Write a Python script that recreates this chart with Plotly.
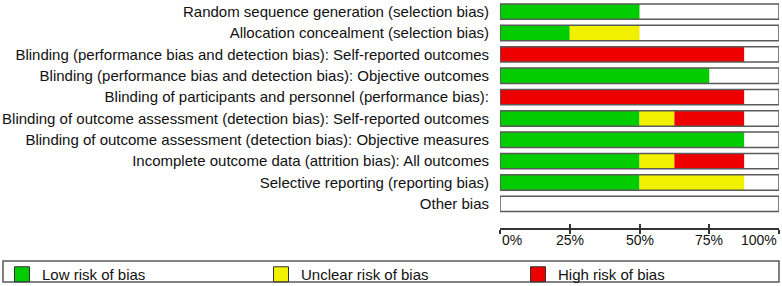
import plotly.graph_objects as go

categories = [
    "Random sequence generation (selection bias)",
    "Allocation concealment (selection bias)",
    "Blinding (performance bias and detection bias): Self-reported outcomes",
    "Blinding (performance bias and detection bias): Objective outcomes",
    "Blinding of participants and personnel (performance bias):",
    "Blinding of outcome assessment (detection bias): Self-reported outcomes",
    "Blinding of outcome assessment (detection bias): Objective measures",
    "Incomplete outcome data (attrition bias): All outcomes",
    "Selective reporting (reporting bias)",
    "Other bias",
]
low = [50, 25, 0, 75, 0, 50, 87.5, 50, 50, 0]
unclear = [0, 25, 0, 0, 0, 12.5, 0, 12.5, 37.5, 0]
high = [0, 0, 87.5, 0, 87.5, 25, 0, 25, 0, 0]
tick_vals = [0, 25, 50, 75, 100]
tick_text = ["0%", "25%", "50%", "75%", "100%"]
series_names = ["Low risk of bias", "Unclear risk of bias", "High risk of bias"]

GREEN = "#00CC00"
YELLOW = "#F0F000"
RED = "#EE0000"
FONT = "Liberation Sans, Arial, sans-serif"
OUTLINE = "#5a5a5a"
BW = 0.72

W, H = 782, 286
ML, MR, MT, MB = 500, 3, 1, 58
PW = W - ML - MR
PH = H - MT - MB

fig = go.Figure()

# white background boxes
fig.add_trace(go.Bar(y=categories, x=[100] * len(categories), orientation="h",
                     marker=dict(color="white", line=dict(width=0)), width=BW,
                     showlegend=False, hoverinfo="skip"))

base_u = [l for l in low]
base_h = [l + u for l, u in zip(low, unclear)]
fig.add_trace(go.Bar(y=categories, x=low, base=[0] * len(low), orientation="h",
                     marker=dict(color=GREEN, line=dict(width=0)), width=BW, showlegend=False))
fig.add_trace(go.Bar(y=categories, x=unclear, base=base_u, orientation="h",
                     marker=dict(color=YELLOW, line=dict(width=0)), width=BW, showlegend=False))
fig.add_trace(go.Bar(y=categories, x=high, base=base_h, orientation="h",
                     marker=dict(color=RED, line=dict(width=0)), width=BW, showlegend=False))

# outline boxes on top
fig.add_trace(go.Bar(y=categories, x=[100] * len(categories), orientation="h",
                     marker=dict(color="rgba(0,0,0,0)", line=dict(color=OUTLINE, width=1.5)),
                     width=BW, showlegend=False, hoverinfo="skip"))

# legend-only entries, each in its own legend
legend_ids = ["legend", "legend2", "legend3"]
legend_x_px = [2, 261, 518]
for name, col, lid in zip(series_names, [GREEN, YELLOW, RED], legend_ids):
    fig.add_trace(go.Scatter(y=[None], x=[None], mode="markers", name=name, legend=lid,
                             marker=dict(symbol="square", size=15, color=col,
                                         line=dict(color="#333333", width=1))))

# tick labels as annotations (0% left aligned, 100% right aligned)
for v, t in zip(tick_vals, tick_text):
    anchor = "left" if v == tick_vals[0] else ("right" if v == tick_vals[-1] else "center")
    fig.add_annotation(x=v, y=0, xref="x", yref="paper", yshift=-12, text=t,
                       showarrow=False, xanchor=anchor, yanchor="middle",
                       font=dict(family=FONT, size=14, color="#111111"))

# legend frame
fig.add_shape(type="rect", xref="paper", yref="paper",
              x0=(3 - ML) / PW, x1=(779 - ML) / PW,
              y0=(MT + PH - 261) / PH, y1=(MT + PH - 282) / PH,
              line=dict(color=OUTLINE, width=1.5), fillcolor="rgba(0,0,0,0)")

leg_common = dict(orientation="h", xref="container", yref="container",
                  xanchor="left", yanchor="top", y=(H - 258) / H,
                  borderwidth=0, bgcolor="rgba(0,0,0,0)", itemsizing="trace",
                  font=dict(family=FONT, size=15, color="#111111"), itemclick=False)

fig.update_layout(
    width=W, height=H,
    margin=dict(l=ML, r=MR, t=MT, b=MB, autoexpand=False),
    barmode="overlay",
    plot_bgcolor="white", paper_bgcolor="white",
    font=dict(family=FONT, size=15, color="#111111"),
    xaxis=dict(range=[0, 100], tickvals=tick_vals, showticklabels=False,
               ticks="outside", ticklen=4, tickwidth=1.5, tickcolor="#333333",
               showline=True, linecolor="#333333", linewidth=1.5,
               showgrid=False, zeroline=False, fixedrange=True),
    xaxis2=dict(range=[0, 100], tickvals=tick_vals, showticklabels=False,
                ticks="inside", ticklen=4, tickwidth=1.5, tickcolor="#333333",
                overlaying="x", anchor="y", side="bottom", showline=False,
                showgrid=False, zeroline=False),
    yaxis=dict(type="category", range=[10.13, -0.5], showgrid=False, zeroline=False,
               showline=False, ticks="", ticklabelstandoff=10,
               tickfont=dict(family=FONT, size=15, color="#111111")),
    legend=dict(x=legend_x_px[0] / W, **leg_common),
    legend2=dict(x=legend_x_px[1] / W, **leg_common),
    legend3=dict(x=legend_x_px[2] / W, **leg_common),
    showlegend=True,
)
# dummy trace to activate xaxis2
fig.add_trace(go.Scatter(x=[None], y=[None], xaxis="x2", showlegend=False))

fig.write_html("out.html")
